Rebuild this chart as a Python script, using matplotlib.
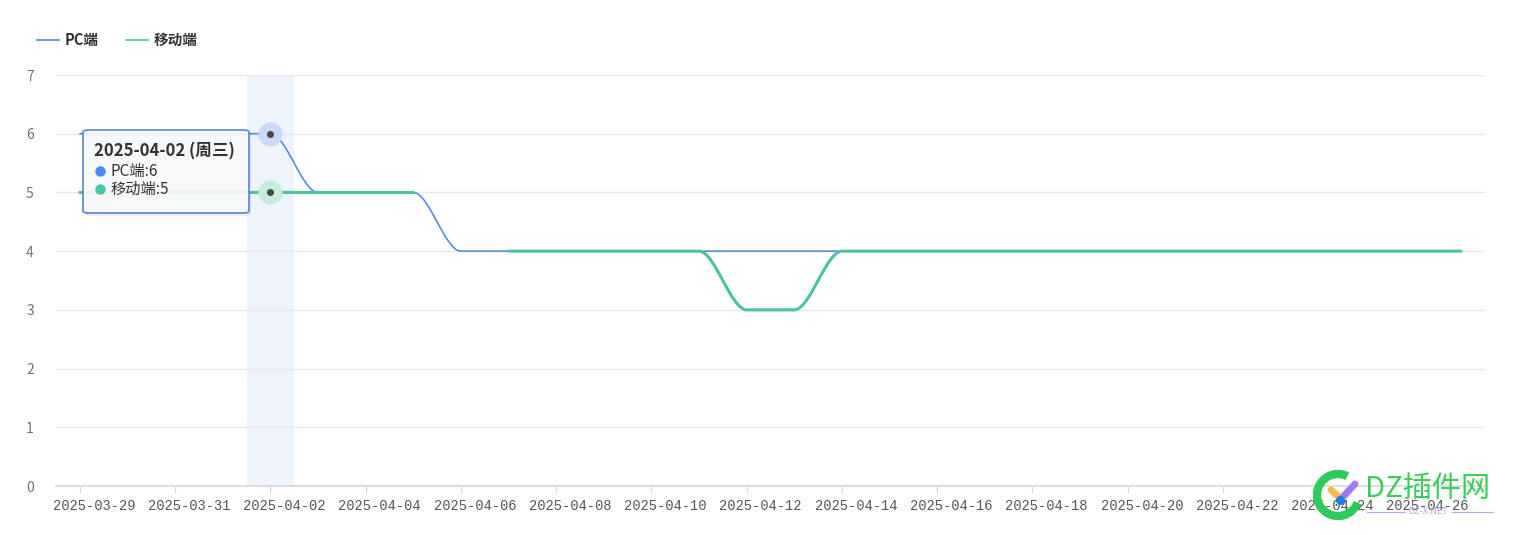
import numpy as np
import pandas as pd
import matplotlib
matplotlib.use("Agg")
import matplotlib.pyplot as plt
import matplotlib.transforms as mtransforms
from matplotlib.path import Path
from matplotlib.patches import PathPatch, FancyBboxPatch, Arc
from matplotlib.lines import Line2D

plt.rcParams['font.family'] = ['Noto Sans CJK SC', 'DejaVu Sans']

# data
dates = pd.date_range("2025-03-29", "2025-04-27", freq="D")
pc_values = [6, 6, 6, 6, 6, 5, 5, 5, 4, 4, 4, 4, 4, 4, 4,
             4, 4, 4, 4, 4, 4, 4, 4, 4, 4, 4, 4, 4, 4, 4]
mobile_values = [5, 5, 5, 5, 5, 5, 5, 5, None, 4, 4, 4, 4, 4, 3,
                 3, 4, 4, 4, 4, 4, 4, 4, 4, 4, 4, 4, 4, 4, 4]
series_names = ["PC端", "移动端"]
series_colors = ["#5a8bd6", "#4cc39c"]
hover_index = 4
weekday_cn = ["周一", "周二", "周三", "周四", "周五", "周六", "周日"]

W, H = 1513, 535


def fx(px):
    return px / W


def fy(py):
    return 1 - py / H


def smooth_path(xs, ys):
    """monotone cubic bezier through points (no overshoot), like echarts smooth lines"""
    xs = np.asarray(xs, float)
    ys = np.asarray(ys, float)
    n = len(xs)
    if n == 1:
        return Path([(xs[0], ys[0])], [Path.MOVETO])
    d = np.diff(ys) / np.diff(xs)
    m = np.zeros(n)
    m[0], m[-1] = d[0], d[-1]
    for i in range(1, n - 1):
        if d[i - 1] * d[i] > 0:
            m[i] = 2 / (1 / d[i - 1] + 1 / d[i])
    if d[0] == 0 or (n > 2 and d[0] * d[1] <= 0):
        m[0] = 0
    if d[-1] == 0 or (n > 2 and d[-1] * d[-2] <= 0):
        m[-1] = 0
    verts = [(xs[0], ys[0])]
    codes = [Path.MOVETO]
    for i in range(n - 1):
        h = xs[i + 1] - xs[i]
        verts += [(xs[i] + h / 3, ys[i] + m[i] * h / 3),
                  (xs[i + 1] - h / 3, ys[i + 1] - m[i + 1] * h / 3),
                  (xs[i + 1], ys[i + 1])]
        codes += [Path.CURVE4] * 3
    return Path(verts, codes)


def draw_series(ax, values, color, lw, z):
    # split on missing values, one smooth path per run
    runs, cur = [], []
    for xi, v in enumerate(values):
        if v is None:
            if cur:
                runs.append(cur)
            cur = []
        else:
            cur.append((xi, v))
    if cur:
        runs.append(cur)
    for run in runs:
        xs, ys = zip(*run)
        ax.add_patch(PathPatch(smooth_path(xs, ys), fill=False, edgecolor=color,
                               lw=lw, zorder=z, capstyle='round', joinstyle='round'))


fig = plt.figure(figsize=(W / 100, H / 100), dpi=100)
ax = fig.add_axes([fx(56), fy(486), (1485 - 56) / W, (486 - 75) / H])

ax.set_xlim(-0.5, len(dates) - 0.5)
ax.set_ylim(0, 7)

# axis pointer shadow
ax.axvspan(hover_index - 0.5, hover_index + 0.5, color="#eef3fc", zorder=0, lw=0)

draw_series(ax, pc_values, series_colors[0], 1.2, 3)
draw_series(ax, mobile_values, series_colors[1], 2.2, 4)

# highlighted points
halo_colors = ["#c8daf6", "#c6ecdf"]
for vals, hc in zip([pc_values, mobile_values], halo_colors):
    ax.scatter([hover_index], [vals[hover_index]], s=300, color=hc, zorder=5, lw=0)
    ax.scatter([hover_index], [vals[hover_index]], s=26, color="#4a4a4a", zorder=6, lw=0)

# axes style
ax.set_yticks(range(0, 8))
ax.grid(axis='y', color="#e6e9f0", lw=1, zorder=0)
ax.set_axisbelow(True)
for side in ["left", "right", "top"]:
    ax.spines[side].set_visible(False)
ax.spines["bottom"].set_color("#d5d9e0")
ax.spines["bottom"].set_linewidth(1.2)
ax.tick_params(axis='y', length=0, pad=16, labelsize=10, labelcolor="#6e7079")
tick_idx = list(range(0, len(dates), 2))
ax.set_xticks(tick_idx)
ax.set_xticklabels([dates[i].strftime("%Y-%m-%d") for i in tick_idx],
                   family="Liberation Mono", fontsize=9.9, color="#555555")
ax.tick_params(axis='x', length=5, color="#d5d9e0", pad=4)
shift = mtransforms.ScaledTranslation(14 / 100, 0, fig.dpi_scale_trans)
for lab in ax.get_xticklabels():
    lab.set_transform(lab.get_transform() + shift)

# legend
lx = [(37, 59, 65), (126, 148, 154)]
for (x0, x1, tx), name, c in zip(lx, series_names, series_colors):
    fig.add_artist(Line2D([fx(x0), fx(x1)], [fy(40), fy(40)], color=c, lw=1.2,
                          transform=fig.transFigure))
    fig.text(fx(tx), fy(40), name, fontsize=10.5, fontweight='bold', color="#333333",
             va='center', ha='left')

# tooltip
shadow = FancyBboxPatch((fx(85), fy(216)), fx(166), (216 - 132) / H,
                        boxstyle="round,pad=0,rounding_size=0.004",
                        transform=fig.transFigure, facecolor="#000000", alpha=0.06,
                        lw=0, zorder=9)
fig.add_artist(shadow)
tip = FancyBboxPatch((fx(83), fy(213)), fx(166), (213 - 130) / H,
                     boxstyle="round,pad=0,rounding_size=0.004",
                     transform=fig.transFigure, facecolor="#f8f9fa", alpha=0.93,
                     edgecolor="#5a85d2", lw=1.3, zorder=10)
fig.add_artist(tip)
d = dates[hover_index]
fig.text(fx(94), fy(151), f"{d.strftime('%Y-%m-%d')} ({weekday_cn[d.weekday()]})",
         fontsize=12, fontweight='bold', color="#333333", va='center', zorder=11)
bullet_colors = ["#4a8cf0", "#45c9a0"]
for k, (name, vals, bc) in enumerate(zip(series_names, [pc_values, mobile_values], bullet_colors)):
    yy = 171 + k * 18
    fig.add_artist(Line2D([fx(100)], [fy(yy)], marker='o', ms=6.5, color=bc, lw=0,
                          transform=fig.transFigure, zorder=11))
    fig.text(fx(110), fy(yy), f"{name}:{vals[hover_index]}", fontsize=11,
             color="#333333", va='center', zorder=11)

# watermark
fig.add_artist(Arc((fx(1338), fy(495)), 42 / W, 42 / H, theta1=80, theta2=312,
                   transform=fig.transFigure, color="#2fca5c", lw=6, zorder=12))
fig.add_artist(Line2D([fx(1331), fx(1340)], [fy(490), fy(498)], color="#f5b94a", lw=5,
                      solid_capstyle='round', transform=fig.transFigure, zorder=12))
fig.add_artist(Line2D([fx(1341), fx(1355)], [fy(499), fy(484)], color="#a27af0", lw=5,
                      solid_capstyle='round', transform=fig.transFigure, zorder=12))
fig.add_artist(Line2D([fx(1340)], [fy(500)], marker='o', ms=5.5, color="#1e7cf2", lw=0,
                      transform=fig.transFigure, zorder=13))
fig.text(fx(1365), fy(489), "DZ插件网", fontsize=21, color="#3dcc5a", va='center',
         ha='left', zorder=12)
fig.add_artist(Line2D([fx(1367), fx(1405)], [fy(512), fy(512)], color="#b9a3ee", lw=0.8,
                      transform=fig.transFigure, zorder=12))
fig.add_artist(Line2D([fx(1452), fx(1493)], [fy(512), fy(512)], color="#b9a3ee", lw=0.8,
                      transform=fig.transFigure, zorder=12))
fig.text(fx(1428), fy(512), "DZ-X.NET", fontsize=6.5, color="#b9a3ee", va='center',
         ha='center', zorder=12)

fig.savefig("out.png", dpi=100)
